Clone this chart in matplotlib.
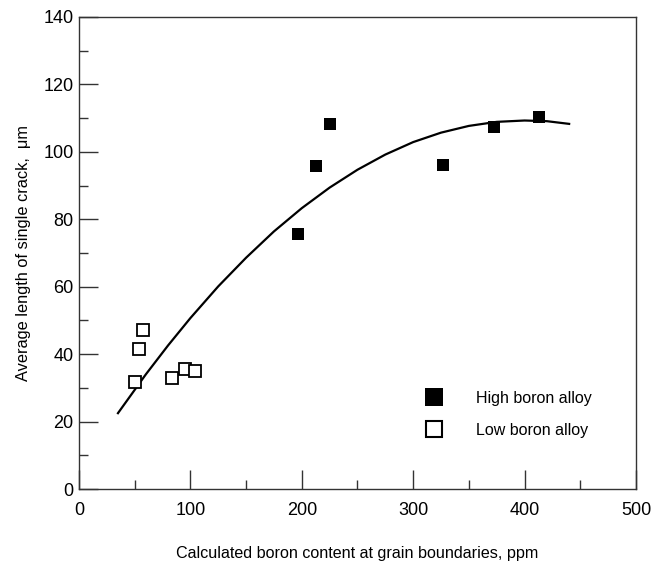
import matplotlib
matplotlib.use("Agg")
import matplotlib.pyplot as plt
from matplotlib.ticker import MultipleLocator
from matplotlib.lines import Line2D

plt.rcParams['font.family'] = ['Liberation Sans', 'DejaVu Sans']

# Data
high_x = [196.6, 212.7, 225.6, 327.0, 372.5, 412.6]
high_y = [75.6, 95.9, 108.2, 96.2, 107.3, 110.3]
low_x = [50.0, 53.9, 57.4, 83.2, 94.8, 104.4]
low_y = [31.8, 41.6, 47.1, 32.8, 35.7, 35.0]
curve_x = [35, 60, 80, 100, 125, 150, 175, 200, 225, 250, 275, 300, 325, 350, 375, 400, 420, 440]
curve_y = [22.5, 34.0, 42.6, 50.7, 60.1, 68.6, 76.4, 83.3, 89.4, 94.7, 99.2, 102.9, 105.7, 107.7, 108.9, 109.3, 109.1, 108.3]

fig = plt.figure(figsize=(6.62, 5.61), dpi=100)
ax = fig.add_axes([0.1193, 0.1283, 0.8414, 0.8414])

ax.plot(curve_x, curve_y, color='black', lw=1.6, zorder=2, solid_joinstyle='round')
ax.plot(high_x, high_y, 's', color='black', markersize=8.2, markeredgewidth=0, zorder=3)
ax.plot(low_x, low_y, 's', markerfacecolor='white', markeredgecolor='black', markersize=8.2, markeredgewidth=1.3, zorder=3)

ax.set_xlim(0, 500)
ax.set_ylim(0, 140)
ax.xaxis.set_major_locator(MultipleLocator(100))
ax.xaxis.set_minor_locator(MultipleLocator(50))
ax.yaxis.set_major_locator(MultipleLocator(20))
ax.yaxis.set_minor_locator(MultipleLocator(10))
ax.tick_params(which='major', direction='in', length=13.5, width=1, color='#333333', labelsize=13)
ax.tick_params(axis='x', which='major', pad=9)
ax.tick_params(axis='y', which='major', pad=4)
ax.tick_params(which='minor', direction='in', length=6.5, width=1, color='#333333')
for s in ax.spines.values():
    s.set_color('#333333')
    s.set_linewidth(1)

ax.set_xlabel('Calculated boron content at grain boundaries, ppm', fontsize=11.6, labelpad=20)
ax.set_ylabel('Average length of single crack,  \u03bcm', fontsize=11.8, labelpad=9)

handles = [
    Line2D([], [], ls='none', marker='s', color='black', markersize=13, markeredgewidth=0),
    Line2D([], [], ls='none', marker='s', markerfacecolor='white', markeredgecolor='black', markersize=12, markeredgewidth=1.5),
]
ax.legend(handles, ['High boron alloy', 'Low boron alloy'], loc='center left',
          bbox_to_anchor=(0.595, 0.158), frameon=False, fontsize=11.5,
          handletextpad=2.0, labelspacing=1.05, handlelength=1.2)

fig.savefig('out.png', dpi=100)
